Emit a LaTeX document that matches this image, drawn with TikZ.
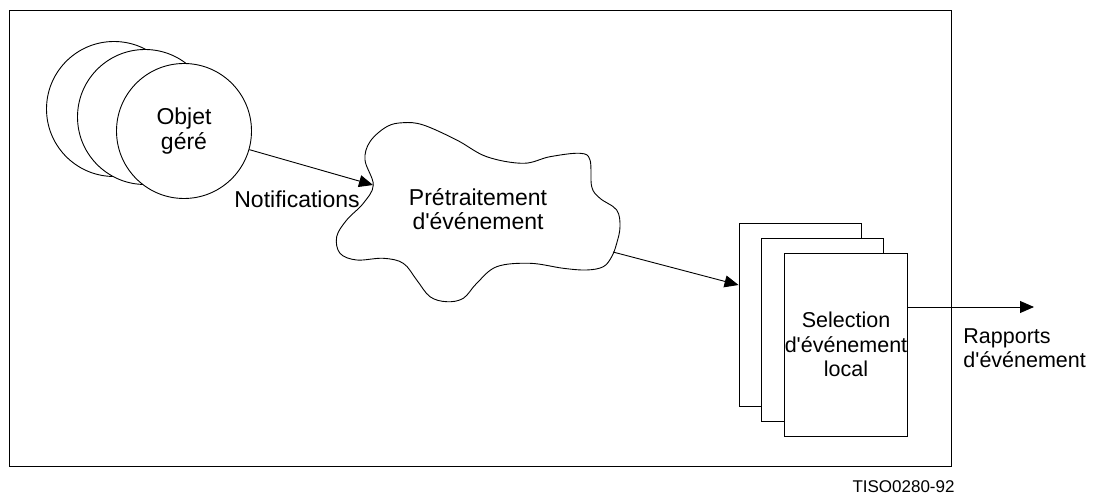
\documentclass[tikz,border=0pt]{standalone}
\usepackage{fontspec}
\setmainfont{Liberation Sans}
\usetikzlibrary{arrows.meta}
\newcommand{\ap}{\textquotesingle}
\begin{document}
\begin{tikzpicture}[x=1pt,y=-1pt,
  line width=0.9pt,
  lbl/.style={font=\fontsize{23}{24.5}\selectfont, align=center, inner sep=0pt},
  lblsmall/.style={lbl, font=\fontsize{21.5}{24.5}\selectfont},
  objcircle/.style={circle, draw, fill=white, minimum size=135pt, inner sep=0pt},
  sheet/.style={rectangle, draw, fill=white, minimum width=122pt, minimum height=183pt, inner sep=0pt},
  arr/.style={-{Triangle[length=14pt,width=12pt]}},
]
\useasboundingbox (0,0) rectangle (1098,494);

% outer frame
\draw (9.5,10.5) rectangle (951,466);

% stacked managed objects
\node[objcircle] (c1) at (114,109) {};
\node[objcircle] (c2) at (145,117) {};
\node[objcircle, lbl] (c3) at (184,131) {Objet\\géré};

% preprocessing cloud
\draw plot[smooth cycle, tension=0.6] coordinates {
  (373.3,185) (365,160) (370,141.7) (386.7,126.7) (403.3,122.7) (423.3,125)
  (456.7,140) (486.7,156.7) (523.3,163.3) (550,156.7) (580,153.3) (590,160)
  (591.7,186.7) (600,198.3) (616.7,210) (620,226.7) (616.7,243.3) (611.7,256.7)
  (603.3,266.7) (586.7,270) (563.3,268.3) (530,263.3) (496.7,266.7) (476.7,283.3)
  (463.3,298.3) (446.7,301.7) (430,296.7) (416.7,280) (403.3,263.3) (383.3,258.3)
  (356.7,260) (340,253.3) (336.7,236.7) (346.7,220) (363.3,203.3)};
\node[lbl] (cloud) at (478,209) {Prétraitement\\d\ap événement};
\coordinate (cin) at (373,185);
\coordinate (cout) at (613,252);

% stacked selection sheets
\node[sheet] (p1) at (800,315) {};
\node[sheet] (p2) at (822.5,330) {};
\node[sheet, lblsmall] (p3) at (846,344.5) {Selection\\d\ap événement\\local};

% connectors
\draw[arr] (c3) -- (cin);
\node[lbl] (notif) at (297,199.5) {Notifications};

\path (p1.west) ++(0,-30) coordinate (pin);
\draw[arr] (cout) -- (pin);

\path (p3.east) ++(0,-37.5) coordinate (pout);
\coordinate (out) at (1034,307);
\draw[arr] (pout) -- (out);
\node[lblsmall, align=left, anchor=west] (rap) at (963,348) {Rapports\\d\ap événement};

% figure reference
\node[font=\fontsize{17}{20}\selectfont, anchor=base east, inner sep=0pt] (ref) at (955,492) {TISO0280-92};
\end{tikzpicture}
\end{document}
